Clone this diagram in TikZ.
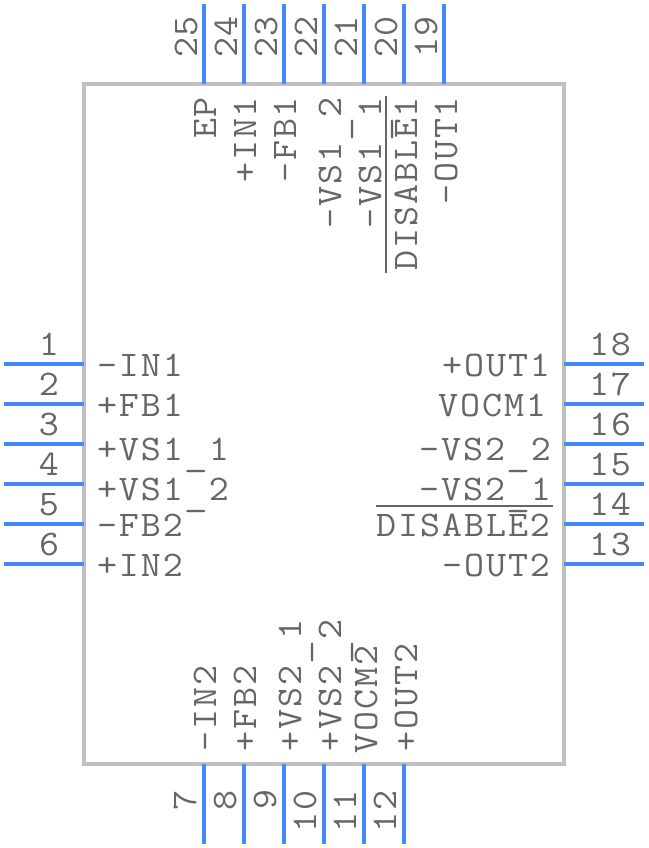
\documentclass[tikz,border=0pt]{standalone}
\usepackage{graphicx}
\usepackage{fontspec}
\setmonofont[LetterSpace=5]{Latin Modern Mono}
\definecolor{pinblue}{HTML}{4488FF}
\definecolor{bodygray}{HTML}{C0C0C0}
\definecolor{txtgray}{HTML}{666666}
\newcommand{\lbl}[1]{\scalebox{1.08}[1]{\fontsize{36}{36}\selectfont\ttfamily #1}}
\newcommand{\usc}{\makebox[24pt]{\raisebox{-5pt}{\scalebox{1.2}[1]{\_}}}}
\tikzset{
  x=1pt,y=-1pt,
  pinline/.style={draw=pinblue,line width=3.7pt},
  body/.style={draw=bodygray,line width=4pt,minimum width=480pt,minimum height=680pt,inner sep=0pt,anchor=north west,outer sep=0pt},
  bar/.style={draw=txtgray,line width=1.8pt},
  txt/.style={text=txtgray,inner sep=0pt,outer sep=0pt},
  le/.style={txt,anchor=base west},
  ri/.style={txt,anchor=base east},
  ce/.style={txt,anchor=base},
  upe/.style={txt,anchor=base east,rotate=90},
  upw/.style={txt,anchor=base west,rotate=90},
  upc/.style={txt,anchor=base,rotate=90}
}
\begin{document}
\begin{tikzpicture}
\useasboundingbox (0,0) rectangle (648,848);
\node[body] (chip) at (84,84) {};
% left pins
\foreach \n/\y in {1/364,2/404,3/444,4/484,5/524,6/564}{
  \coordinate (p\n) at (4,\y);
  \draw[pinline] (p\n) -- (p\n -| chip.west);
  \node[ce] (n\n) at (49,\y-9) {\lbl{\n}};
}
% right pins
\foreach \n/\y in {18/364,17/404,16/444,15/484,14/524,13/564}{
  \coordinate (p\n) at (644,\y);
  \draw[pinline] (p\n) -- (p\n -| chip.east);
  \node[ce] (n\n) at (610,\y-9) {\lbl{\n}};
}
% top pins
\foreach \n/\x in {25/204,24/244,23/284,22/324,21/364,20/404,19/444}{
  \coordinate (p\n) at (\x,4);
  \draw[pinline] (p\n) -- (p\n |- chip.north);
  \node[upc] (n\n) at (\x-7,37) {\lbl{\n}};
}
% bottom pins
\foreach \n/\x in {7/204,8/244,9/284,10/324,11/364,12/404}{
  \coordinate (p\n) at (\x,844);
  \draw[pinline] (p\n) -- (p\n |- chip.south);
  \node[upe] (n\n) at (\x-8,790) {\lbl{\n}};
}
% left labels
\node[le] (l1) at (97,376) {\lbl{-IN1}};
\node[le] (l2) at (97,416) {\lbl{+FB1}};
\node[le] (l3) at (97,460) {\lbl{+VS1\usc1}};
\node[le] (l4) at (97,500) {\lbl{+VS1\usc2}};
\node[le] (l5) at (97,536) {\lbl{-FB2}};
\node[le] (l6) at (97,576) {\lbl{+IN2}};
% right labels
\node[ri] (l18) at (550,376) {\lbl{+OUT1}};
\node[ri] (l17) at (546,416) {\lbl{VOCM1}};
\node[ri] (l16) at (551,460) {\lbl{-VS2\usc2}};
\node[ri] (l15) at (551,500) {\lbl{-VS2\usc1}};
\node[ri] (l14) at (550,536) {\lbl{DISABLE2}};
\node[ri] (l13) at (550,576) {\lbl{-OUT2}};
% top labels
\node[upe] (l25) at (216,97) {\lbl{EP}};
\node[upe] (l24) at (256,97) {\lbl{+IN1}};
\node[upe] (l23) at (296,97) {\lbl{-FB1}};
\node[upe] (l22) at (341,97) {\lbl{-VS1\usc2}};
\node[upe] (l21) at (381,97) {\lbl{-VS1\usc1}};
\node[upe] (l20) at (417,97) {\lbl{DISABLE1}};
\node[upe] (l19) at (457,97) {\lbl{-OUT1}};
% bottom labels
\node[upw] (l7) at (216,751) {\lbl{-IN2}};
\node[upw] (l8) at (256,751) {\lbl{+FB2}};
\node[upw] (l9) at (301,751) {\lbl{+VS2\usc1}};
\node[upw] (l10) at (341,751) {\lbl{+VS2\usc2}};
\node[upw] (l11) at (377,753) {\lbl{VOCM2}};
\node[upw] (l12) at (417,751) {\lbl{+OUT2}};
% overbars
\coordinate (ba) at (386,96); \coordinate (bb) at (386,272.5);
\draw[bar] (ba) -- (bb);
\coordinate (bc) at (376,505.7); \coordinate (bd) at (552.7,505.7);
\draw[bar] (bc) -- (bd);
\end{tikzpicture}
\end{document}
